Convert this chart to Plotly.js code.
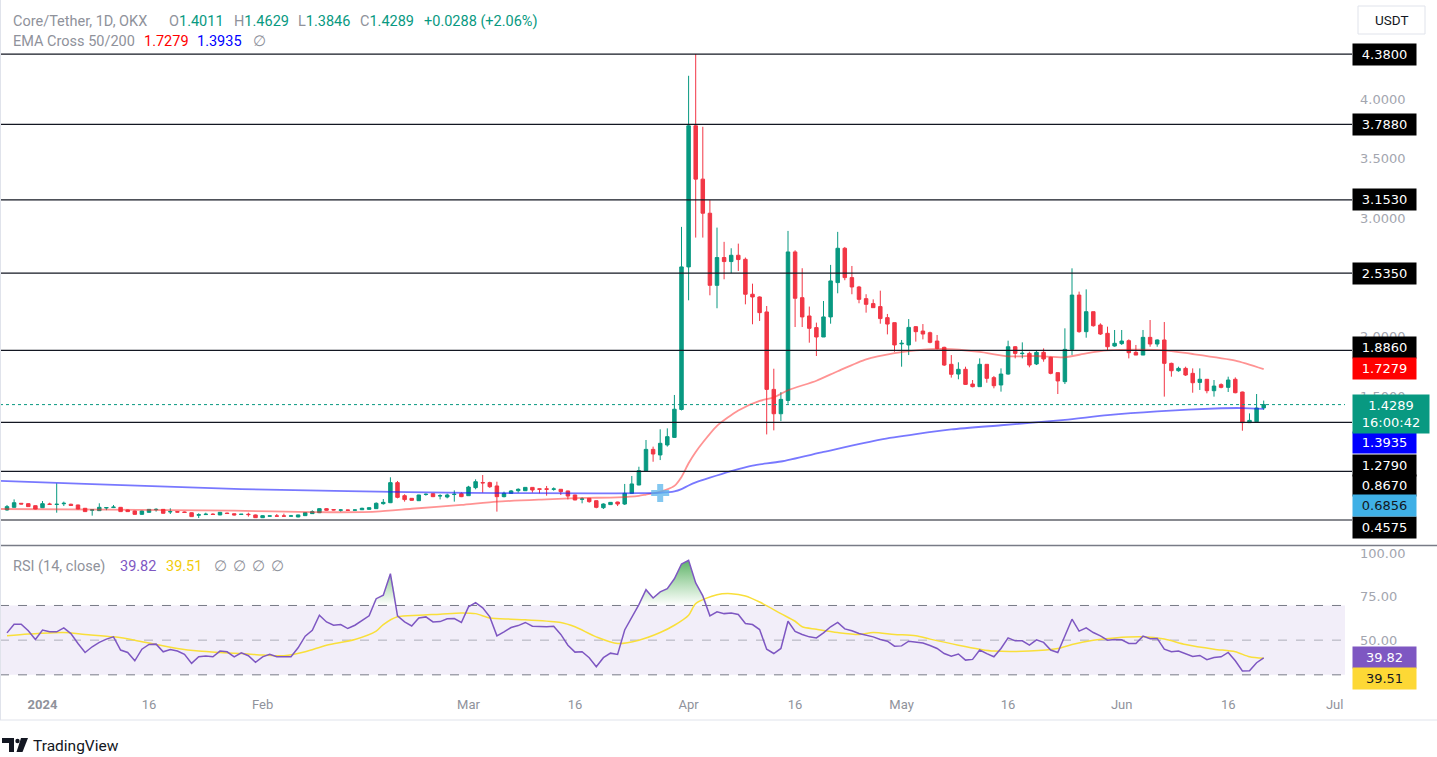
<!DOCTYPE html>
<html><head><meta charset="utf-8">
<script src="https://cdn.plot.ly/plotly-3.0.1.min.js"></script>
<style>html,body{margin:0;padding:0;background:#fff;overflow:hidden}#chart{width:1437px;height:757px}</style>
</head><body><div id="chart"></div>
<script>
// ---------- data ----------
const firstDay = [2023, 11, 27]; // 27 Dec 2023, one candle per day
const open = [
0.542,0.564,0.598,0.595,0.578,0.561,0.592,0.588,0.594,0.590,
0.584,0.556,0.540,0.536,0.559,0.562,0.564,0.542,0.533,0.505,
0.522,0.544,0.547,0.526,0.528,0.525,0.519,0.498,0.503,0.507,
0.500,0.516,0.510,0.504,0.506,0.500,0.477,0.490,0.492,0.492,
0.490,0.483,0.494,0.511,0.519,0.553,0.545,0.540,0.542,0.540,
0.544,0.547,0.553,0.595,0.603,0.772,0.662,0.640,0.620,0.672,
0.679,0.660,0.651,0.672,0.679,0.662,0.730,0.773,0.772,0.744,
0.654,0.682,0.704,0.704,0.732,0.720,0.720,0.716,0.716,0.702,
0.668,0.632,0.640,0.620,0.561,0.587,0.609,0.592,0.682,0.752,
0.873,1.052,1.005,1.089,1.153,1.388,2.588,3.776,3.327,3.040,
2.433,2.667,2.633,2.686,2.652,2.358,2.335,2.209,1.557,1.352,
1.464,2.714,2.329,2.175,2.077,1.998,2.167,2.456,2.745,2.498,
2.419,2.321,2.279,2.254,2.161,2.119,1.940,1.931,2.085,2.048,
2.034,1.964,1.911,1.768,1.686,1.726,1.602,1.580,1.768,1.656,
1.594,1.686,1.916,1.858,1.860,1.771,1.869,1.827,1.698,1.622,
1.894,2.351,2.043,2.211,2.099,2.029,1.922,1.942,1.967,1.869,
1.846,1.995,1.939,1.973,1.776,1.714,1.734,1.692,1.616,1.642,
1.546,1.597,1.574,1.642,1.535,1.277,1.285,1.4011];
const high = [
0.584,0.631,0.600,0.598,0.580,0.617,0.603,0.766,0.612,0.595,
0.586,0.558,0.545,0.598,0.566,0.584,0.567,0.545,0.536,0.536,
0.550,0.556,0.550,0.556,0.531,0.528,0.521,0.514,0.519,0.514,
0.525,0.519,0.512,0.508,0.519,0.503,0.497,0.494,0.508,0.511,
0.500,0.502,0.522,0.539,0.556,0.558,0.548,0.550,0.544,0.546,
0.561,0.563,0.606,0.634,0.817,0.786,0.674,0.642,0.670,0.680,
0.681,0.674,0.679,0.707,0.690,0.745,0.800,0.836,0.780,0.780,
0.696,0.710,0.724,0.734,0.734,0.722,0.744,0.732,0.718,0.704,
0.670,0.648,0.642,0.622,0.598,0.608,0.611,0.761,0.828,0.906,
1.131,1.075,1.221,1.229,1.510,2.925,4.197,4.380,3.768,3.150,
2.919,2.799,2.745,2.784,2.667,2.447,2.340,2.259,1.731,1.534,
2.891,2.728,2.577,2.254,2.119,2.301,2.605,2.883,2.756,2.596,
2.428,2.358,2.315,2.388,2.192,2.119,1.973,2.149,2.090,2.107,
2.043,2.015,1.916,1.846,1.785,1.748,1.636,1.818,1.768,1.670,
1.734,1.967,1.922,1.953,1.874,1.888,1.902,1.832,1.698,2.071,
2.576,2.380,2.399,2.211,2.113,2.085,2.057,2.057,1.978,1.931,
2.057,2.141,1.978,2.124,1.782,1.748,1.748,1.734,1.734,1.642,
1.636,1.608,1.664,1.658,1.538,1.355,1.518,1.4629];
const low = [
0.536,0.562,0.590,0.568,0.548,0.558,0.586,0.519,0.575,0.578,
0.548,0.525,0.494,0.533,0.540,0.558,0.526,0.526,0.503,0.503,
0.520,0.528,0.512,0.508,0.522,0.519,0.484,0.474,0.500,0.502,
0.498,0.510,0.496,0.500,0.486,0.475,0.474,0.488,0.488,0.488,
0.488,0.481,0.492,0.508,0.516,0.536,0.539,0.528,0.536,0.538,
0.542,0.545,0.550,0.587,0.600,0.640,0.612,0.620,0.618,0.662,
0.650,0.631,0.640,0.612,0.650,0.660,0.716,0.688,0.727,0.528,
0.648,0.680,0.688,0.702,0.688,0.682,0.662,0.704,0.668,0.631,
0.624,0.598,0.603,0.556,0.550,0.585,0.575,0.584,0.680,0.750,
0.864,0.948,0.962,1.075,1.150,1.380,2.307,2.835,2.835,2.349,
2.240,2.484,2.535,2.554,2.273,2.105,2.133,1.178,1.212,1.290,
1.436,2.082,2.082,1.950,1.838,1.998,2.110,2.366,2.476,2.358,
2.282,2.203,2.245,2.110,2.020,1.874,1.748,1.846,1.959,1.978,
1.945,1.894,1.754,1.656,1.642,1.594,1.574,1.580,1.613,1.566,
1.538,1.681,1.818,1.818,1.743,1.762,1.790,1.684,1.518,1.602,
1.846,2.034,1.992,2.085,2.015,1.888,1.916,1.931,1.818,1.846,
1.846,1.916,1.916,1.496,1.664,1.706,1.670,1.529,1.552,1.524,
1.496,1.566,1.535,1.524,1.209,1.277,1.285,1.3846];
const close = [
0.570,0.603,0.592,0.570,0.550,0.595,0.589,0.590,0.598,0.580,
0.550,0.528,0.543,0.564,0.562,0.566,0.528,0.528,0.505,0.533,
0.547,0.547,0.514,0.528,0.524,0.521,0.486,0.502,0.506,0.504,
0.522,0.512,0.500,0.506,0.503,0.477,0.494,0.492,0.490,0.490,
0.492,0.500,0.519,0.528,0.553,0.539,0.542,0.542,0.539,0.542,
0.556,0.561,0.598,0.606,0.772,0.648,0.629,0.623,0.668,0.674,
0.654,0.662,0.668,0.674,0.654,0.735,0.780,0.770,0.738,0.654,
0.682,0.702,0.716,0.732,0.710,0.716,0.716,0.719,0.696,0.659,
0.626,0.635,0.612,0.564,0.592,0.606,0.592,0.682,0.761,0.873,
1.052,1.013,1.103,1.159,1.390,2.588,3.776,3.327,3.040,2.433,
2.667,2.633,2.686,2.650,2.358,2.335,2.203,1.557,1.352,1.473,
2.714,2.324,2.167,2.071,1.998,2.167,2.470,2.745,2.498,2.419,
2.315,2.273,2.245,2.153,2.107,1.931,1.945,2.079,2.043,2.023,
1.953,1.902,1.762,1.684,1.726,1.599,1.580,1.768,1.650,1.588,
1.686,1.916,1.860,1.861,1.762,1.869,1.813,1.692,1.628,1.894,
2.351,2.043,2.211,2.093,2.023,1.916,1.945,1.964,1.866,1.846,
1.995,1.939,1.973,1.776,1.714,1.734,1.678,1.613,1.642,1.546,
1.585,1.574,1.636,1.529,1.277,1.296,1.4001,1.4289];

const rsi = [
54.2,59.2,59.2,55.4,50.4,55.8,54.8,54.8,57.1,53.8,
48.1,42.9,46.2,48.7,50.6,51.9,44.3,42.9,38.1,44.8,
47.5,47.7,43.3,44.6,43.7,41.8,36.6,40.4,40.8,40.4,
43.7,43.3,40.4,42.7,41.0,37.2,40.4,41.8,40.4,40.4,
40.4,45.6,52.3,55.7,64.4,60.5,58.6,59.0,56.7,58.6,
61.1,64.0,73.9,75.9,88.3,64.0,60.5,58.2,62.8,63.4,
60.5,60.7,62.3,62.5,60.2,69.2,71.6,68.6,63.4,52.5,
54.8,57.3,58.4,60.2,58.0,57.7,57.7,58.0,53.3,47.1,
43.1,43.3,39.9,34.7,39.9,42.5,41.8,55.9,62.8,70.5,
79.1,74.3,77.8,79.7,85.4,93.9,96.0,83.0,75.5,64.0,
66.3,65.3,65.7,64.8,59.6,59.0,56.1,44.8,42.3,45.2,
60.9,55.0,53.3,51.9,51.3,54.2,57.7,60.2,56.5,55.4,
53.8,52.9,51.9,50.4,49.4,46.5,46.7,49.4,48.7,48.3,
46.9,45.2,42.3,40.8,42.0,38.5,38.9,44.3,42.2,40.4,
45.2,51.3,49.6,49.6,47.1,50.2,48.7,44.3,42.9,52.9,
62.1,55.2,57.1,54.4,52.5,50.0,50.4,50.2,48.1,48.1,
52.3,50.8,51.0,44.8,43.3,43.7,42.2,40.6,41.2,38.7,
40.0,40.4,42.9,38.1,32.2,32.4,37.0,39.82];

const rsiMaDates = ['2023-12-27','2023-12-30','2024-01-04','2024-01-07','2024-01-11','2024-01-14','2024-01-17','2024-01-20','2024-01-23','2024-01-26','2024-01-29','2024-02-01','2024-02-04','2024-02-07','2024-02-10','2024-02-14','2024-02-17','2024-02-18','2024-02-20','2024-02-23','2024-02-26','2024-02-29','2024-03-02','2024-03-04','2024-03-07','2024-03-09','2024-03-14','2024-03-16','2024-03-19','2024-03-22','2024-03-25','2024-03-28','2024-03-30','2024-04-01','2024-04-02','2024-04-05','2024-04-07','2024-04-09','2024-04-11','2024-04-14','2024-04-16','2024-04-17','2024-04-19','2024-04-22','2024-04-25','2024-04-27','2024-04-30','2024-05-03','2024-05-05','2024-05-09','2024-05-12','2024-05-14','2024-05-19','2024-05-23','2024-05-25','2024-05-28','2024-05-31','2024-06-04','2024-06-07','2024-06-10','2024-06-14','2024-06-17','2024-06-19','2024-06-21'];
const rsiMa = [52.5,53.5,54.4,53.3,51.9,50.0,47.5,45.2,43.7,42.9,42.3,41.4,41.0,43.3,47.1,50.4,55.2,59.0,63.5,64.4,65.0,65.7,65.3,62.8,62.1,61.7,60.2,57.7,51.9,48.1,50.0,54.4,58.6,64.4,71.1,76.2,76.8,75.5,72.0,65.3,60.9,57.7,56.3,54.4,53.3,54.4,53.3,52.5,50.6,47.1,44.8,43.7,43.7,45.2,47.5,50.0,51.3,51.9,50.6,47.5,44.8,43.3,40.4,39.51];

const ema50Dates = ['2023-12-26','2024-01-10','2024-01-28','2024-02-08','2024-02-17','2024-02-22','2024-02-29','2024-03-05','2024-03-12','2024-03-17','2024-03-22','2024-03-25','2024-03-26','2024-03-27','2024-03-28','2024-03-29','2024-03-30','2024-03-31','2024-04-01','2024-04-02','2024-04-03','2024-04-05','2024-04-08','2024-04-11','2024-04-13','2024-04-15','2024-04-19','2024-04-22','2024-04-26','2024-04-30','2024-05-03','2024-05-07','2024-05-12','2024-05-16','2024-05-20','2024-05-24','2024-05-27','2024-05-30','2024-06-04','2024-06-07','2024-06-11','2024-06-17','2024-06-21'];
const ema50 = [0.550,0.545,0.536,0.523,0.528,0.552,0.584,0.612,0.631,0.643,0.648,0.661,0.672,0.682,0.697,0.716,0.745,0.820,0.935,1.030,1.110,1.250,1.380,1.460,1.490,1.550,1.630,1.710,1.810,1.862,1.885,1.897,1.872,1.835,1.838,1.827,1.860,1.885,1.892,1.885,1.855,1.800,1.7279];
const ema200Dates = ['2023-12-26','2024-01-08','2024-01-29','2024-02-13','2024-03-01','2024-03-19','2024-03-25','2024-03-28','2024-03-30','2024-03-31','2024-04-01','2024-04-02','2024-04-04','2024-04-07','2024-04-10','2024-04-14','2024-04-20','2024-04-28','2024-05-08','2024-05-15','2024-05-24','2024-05-30','2024-06-06','2024-06-15','2024-06-18','2024-06-21'];
const ema200 = [0.786,0.760,0.718,0.701,0.686,0.682,0.683,0.687,0.699,0.718,0.748,0.774,0.814,0.869,0.916,0.950,1.030,1.135,1.220,1.255,1.300,1.340,1.372,1.398,1.400,1.3935];
const crossDates = ['2024-03-28'];
const crossValues = [0.6856];

const levels = [4.38, 3.788, 3.153, 2.535, 1.886, 1.279, 0.867, 0.4575];
const priceTicks = [1.5, 2, 3, 3.5, 4];
const rsiTicks = [50, 75, 100];
const rsiBands = [30, 50, 70];
const xTickDates = ['2024-01-01','2024-01-16','2024-02-01','2024-03-01','2024-03-16','2024-04-01','2024-04-16','2024-05-01','2024-05-16','2024-06-01','2024-06-16','2024-07-01'];
const xTickText = ['<b>2024</b>','16','Feb','Mar','16','Apr','16','May','16','Jun','16','Jul'];

// ---------- build ----------
const dates = [];
{ const t0 = Date.UTC(firstDay[0], firstDay[1], firstDay[2]);
  for (let i = 0; i < close.length; i++) dates.push(new Date(t0 + i * 864e5).toISOString().slice(0, 10)); }
const n = close.length;
const last = close[n - 1];
const chg = last - close[n - 2];
const pct = chg / close[n - 2] * 100;

const W = 1345, H = 690;
const PX = p => p / W, PY = p => 1 - p / H;
const GREEN = '#089981', RED = '#f23645', GRAY = '#8f929b';
const FONT = 'Roboto, "Noto Sans", sans-serif';
const AXF = '"DejaVu Sans", sans-serif';

const traces = [
  { type: 'candlestick', x: dates, open: open, high: high, low: low, close: close,
    xaxis: 'x', yaxis: 'y', whiskerwidth: 0, hoverinfo: 'skip',
    increasing: { line: { color: GREEN, width: 1 }, fillcolor: GREEN },
    decreasing: { line: { color: RED, width: 1 }, fillcolor: RED } },
  { type: 'scatter', mode: 'lines', x: ema50Dates, y: ema50, xaxis: 'x', yaxis: 'y',
    line: { color: 'rgba(255,40,40,0.5)', width: 1.8, shape: 'spline', smoothing: 0.6 }, hoverinfo: 'skip' },
  { type: 'scatter', mode: 'lines', x: ema200Dates, y: ema200, xaxis: 'x', yaxis: 'y',
    line: { color: 'rgba(30,30,255,0.6)', width: 1.8, shape: 'spline', smoothing: 0.6 }, hoverinfo: 'skip' },
  { type: 'scatter', mode: 'markers', x: crossDates, y: crossValues, xaxis: 'x', yaxis: 'y',
    marker: { symbol: 'cross', size: 15, color: 'rgba(90,180,235,0.75)', line: { width: 0 } }, hoverinfo: 'skip' },
  // overbought gradient fill
  { type: 'scatter', mode: 'lines', x: dates, y: rsi.map(() => rsiBands[2]), xaxis: 'x', yaxis: 'y2',
    line: { width: 0, color: 'rgba(0,0,0,0)' }, hoverinfo: 'skip' },
  { type: 'scatter', mode: 'lines', x: dates, y: rsi.map(v => Math.max(v, rsiBands[2])), xaxis: 'x', yaxis: 'y2',
    line: { width: 0, color: 'rgba(0,0,0,0)' }, fill: 'tonexty', fillcolor: 'rgba(76,175,80,0.45)',
    fillgradient: { type: 'vertical', start: 70, stop: 100,
      colorscale: [[0, 'rgba(76,175,80,0)'], [1, 'rgba(56,160,70,0.95)']] }, hoverinfo: 'skip' },
  { type: 'scatter', mode: 'lines', x: rsiMaDates, y: rsiMa, xaxis: 'x', yaxis: 'y2',
    line: { color: '#f9df3a', width: 1.5, shape: 'spline', smoothing: 0.8 }, hoverinfo: 'skip' },
  { type: 'scatter', mode: 'lines', x: dates, y: rsi, xaxis: 'x', yaxis: 'y2',
    line: { color: '#7e57c2', width: 1.5 }, hoverinfo: 'skip' }
];

const shapes = [];
shapes.push({ type: 'rect', xref: 'paper', x0: 0, x1: 1, yref: 'y2', y0: rsiBands[0], y1: rsiBands[2],
  fillcolor: 'rgba(126,87,194,0.10)', line: { width: 0 }, layer: 'below' });
rsiBands.forEach((b, i) => shapes.push({ type: 'line', xref: 'paper', x0: 0, x1: 1, yref: 'y2', y0: b, y1: b,
  line: { color: i === 1 ? 'rgba(120,123,134,0.55)' : '#787b86', width: 1, dash: 'dash' }, layer: 'below' }));
levels.forEach(v => shapes.push({ type: 'line', xref: 'paper', x0: 0, x1: PX(1352), yref: 'y', y0: v, y1: v,
  line: { color: '#131722', width: 1.2 } }));
shapes.push({ type: 'line', xref: 'paper', x0: 0, x1: 1, yref: 'y', y0: last, y1: last,
  line: { color: GREEN, width: 1, dash: 'dot' } });
shapes.push({ type: 'line', xref: 'paper', x0: 0, x1: PX(1437), yref: 'paper', y0: PY(545.5), y1: PY(545.5),
  line: { color: '#787b86', width: 1.5 } });
shapes.push({ type: 'line', xref: 'paper', x0: 0, x1: PX(1437), yref: 'paper', y0: PY(720), y1: PY(720),
  line: { color: '#e0e3eb', width: 1 } });
shapes.push({ type: 'line', xref: 'paper', x0: PX(0.5), x1: PX(0.5), yref: 'paper', y0: PY(0), y1: PY(720),
  line: { color: '#e0e3eb', width: 1 } });
shapes.push({ type: 'rect', xref: 'paper', yref: 'paper', x0: PX(1358), x1: PX(1425), y0: PY(34), y1: PY(6),
  line: { color: '#e0e3eb', width: 1 }, fillcolor: '#ffffff' });
const path = pts => 'M' + pts.map(p => PX(p[0]) + ',' + PY(p[1])).join(' L') + ' Z';
shapes.push({ type: 'path', xref: 'paper', yref: 'paper', fillcolor: '#131722', line: { width: 0 },
  path: path([[2, 738], [14, 738], [14, 752], [9, 752], [9, 743], [2, 743]]) });
shapes.push({ type: 'circle', xref: 'paper', yref: 'paper', fillcolor: '#131722', line: { width: 0 },
  x0: PX(15.3), x1: PX(19.7), y0: PY(743.2), y1: PY(738.8) });
shapes.push({ type: 'path', xref: 'paper', yref: 'paper', fillcolor: '#131722', line: { width: 0 },
  path: path([[21, 738], [28, 738], [22.5, 752], [16.5, 752]]) });

const ann = [];
function txt(px, py, text, color, size, family) {
  ann.push({ xref: 'paper', yref: 'paper', x: PX(px), y: PY(py), xanchor: 'left', yanchor: 'middle',
    text: text, showarrow: false, font: { family: family || FONT, size: size || 14, color: color } });
}
const sp = (c, t) => '<span style="color:' + c + '">' + t + '</span>';
txt(11, 21, 'Core/Tether, 1D, OKX', GRAY, 14.5);
txt(167, 21, 'O' + sp(GREEN, open[n - 1].toFixed(4)), GRAY, 14.5);
txt(232, 21, 'H' + sp(GREEN, high[n - 1].toFixed(4)), GRAY, 14.5);
txt(296, 21, 'L' + sp(GREEN, low[n - 1].toFixed(4)), GRAY, 14.5);
txt(358, 21, 'C' + sp(GREEN, last.toFixed(4)), GRAY, 14.5);
txt(422, 21, (chg >= 0 ? '+' : '') + chg.toFixed(4) + ' (' + (pct >= 0 ? '+' : '') + pct.toFixed(2) + '%)', GREEN, 14.5);
txt(11, 42, 'EMA Cross 50/200', GRAY, 14.5);
txt(142, 42, ema50[ema50.length - 1].toFixed(4), '#ff0000', 14.5);
txt(195, 42, ema200[ema200.length - 1].toFixed(4), '#0000ff', 14.5);
txt(251, 42, '∅', GRAY, 14.5);
txt(11, 566, 'RSI (14, close)', GRAY, 14.5);
txt(118, 566, rsi[n - 1].toFixed(2), '#7e57c2', 14.5);
txt(164, 566, rsiMa[rsiMa.length - 1].toFixed(2), '#f2cc0c', 14.5);
[212, 231, 250, 269].forEach(p => txt(p, 566, '∅', GRAY, 14.5));
ann.push({ xref: 'paper', yref: 'paper', x: PX(1391.5), y: PY(20), xanchor: 'center', yanchor: 'middle',
  text: 'USDT', showarrow: false, font: { family: FONT, size: 13.5, color: '#131722' } });
txt(31, 745.5, 'TradingView', '#131722', 15.5);

function box(yref, v, text, bg, fg, shift, w, h) {
  ann.push({ xref: 'paper', x: PX(1352), xanchor: 'left', yref: yref, y: v, yanchor: 'middle', yshift: shift,
    text: text, showarrow: false, bgcolor: bg, borderpad: 2, width: w || 59, height: h || 17, align: 'center',
    font: { family: AXF, size: 13, color: fg } });
}
levels.forEach(v => {
  const s = v === 1.279 ? -43 : v === 0.867 ? -14 : v === 0.4575 ? -7.5 : v === 1.886 ? 3 : 0;
  box('y', v, v.toFixed(4), '#000000', '#ffffff', s);
});
box('y', ema50[ema50.length - 1], ema50[ema50.length - 1].toFixed(4), '#ff0000', '#ffffff', 1);
box('y', ema200[ema200.length - 1], ema200[ema200.length - 1].toFixed(4), '#0000ff', '#ffffff', -34);
box('y', crossValues[0], crossValues[0].toFixed(4), '#3fb0e6', '#131722', -13);
box('y', last, last.toFixed(4) + '<br>16:00:42', GREEN, '#ffffff', -9, 72, 34);
box('y2', rsi[n - 1], rsi[n - 1].toFixed(2), '#7e57c2', '#ffffff', 0);
box('y2', rsiMa[rsiMa.length - 1], rsiMa[rsiMa.length - 1].toFixed(2), '#fdd835', '#131722', -20);

const layout = {
  width: 1437, height: 757, margin: { l: 0, r: 92, t: 0, b: 67 },
  paper_bgcolor: '#ffffff', plot_bgcolor: '#ffffff', showlegend: false,
  xaxis: { type: 'date', anchor: 'y2', range: ['2023-12-26 00:20', '2024-07-02 10:48'],
    rangeslider: { visible: false }, showgrid: false, zeroline: false, showline: false, ticks: '',
    ticklabelstandoff: 5,
    tickvals: xTickDates, ticktext: xTickText, tickfont: { family: FONT, size: 13, color: '#8f929b' } },
  yaxis: { domain: [PY(545), 1], range: [0.247, 4.835], side: 'right', showgrid: false, zeroline: false,
    ticks: '', tickvals: priceTicks, ticktext: priceTicks.map(v => v.toFixed(4)), ticklabelstandoff: 14,
    tickfont: { family: AXF, size: 13, color: '#a3a6af' } },
  yaxis2: { domain: [0, PY(546.5)], range: [21.26, 104], side: 'right', showgrid: false, zeroline: false,
    ticks: '', tickvals: rsiTicks, ticktext: rsiTicks.map(v => v.toFixed(2)), ticklabelstandoff: 14,
    tickfont: { family: AXF, size: 13, color: '#a3a6af' } },
  shapes: shapes, annotations: ann
};
Plotly.newPlot('chart', traces, layout, { staticPlot: true, displayModeBar: false });
</script></body></html>
